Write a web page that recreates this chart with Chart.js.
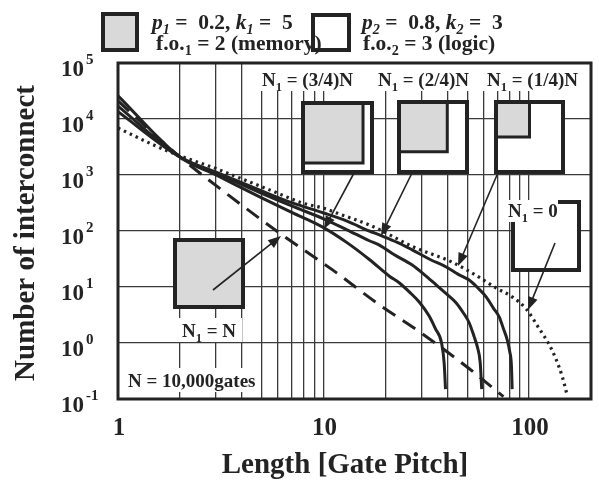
<!DOCTYPE html>
<html>
<head>
<meta charset="utf-8">
<script src="https://cdn.jsdelivr.net/npm/chart.js@4.4.1/dist/chart.umd.min.js"></script>
<style>
  html, body { margin: 0; padding: 0; background: #fff; }
  canvas { display: block; }
</style>
</head>
<body>
<canvas id="c" width="599" height="481"></canvas>
<script>
'use strict';
// ============================================================
// Wire length distribution, N = 10,000 gates
// x = length [gate pitch], y = number of interconnects
// ============================================================

// N1 = N (memory only), dashed
var memX = [1, 2, 3.5, 6.1, 11.1, 18.7, 29.2, 51, 75];
var memY = [21000, 2100, 420, 92, 20, 4.8, 1.6, 0.35, 0.11];

// N1 = (3/4)N
var q3X = [1, 2, 3, 5, 7, 10, 13, 16.7, 20.9, 23.4, 26.2, 29.2, 32.7, 35, 37.5, 38.6, 39.2];
var q3Y = [26000, 2100, 1000, 390, 215, 115, 62, 31, 15.6, 11.8, 8.1, 5.4, 3.0, 1.8, 1.0, 0.44, 0.15];

// N1 = (2/4)N
var q2X = [1, 2, 3, 5, 7, 10, 13, 16.7, 18.7, 22, 27, 31, 35.3, 40, 44.2, 48, 51.1, 54, 56, 57.8, 58.8];
var q2Y = [17000, 2100, 1080, 470, 280, 165, 105, 67, 56, 38, 24.7, 16.5, 10.9, 7.3, 5.2, 3.4, 2.3, 1.3, 0.85, 0.45, 0.15];

// N1 = (1/4)N
var q1X = [1, 2, 3, 5, 7, 10, 13, 16.7, 18.7, 23, 27, 33, 39.5, 45, 51.1, 57, 61.9, 67, 71.6, 75, 78.3, 80.5, 82, 82.7];
var q1Y = [13500, 2100, 1120, 520, 320, 210, 150, 100, 85, 62, 46, 31, 22.8, 17, 13.3, 9.2, 6.6, 4.2, 2.9, 1.8, 1.13, 0.7, 0.4, 0.15];

// N1 = 0 (logic only), dotted
var logicX = [1, 1.5, 2, 3, 3.8, 5.5, 7.9, 10, 11.6, 16.7, 19.3, 27, 42, 57, 69, 83, 97, 112, 125, 135, 145, 152];
var logicY = [6900, 3400, 2200, 1300, 920, 537, 316, 255, 209, 128, 100, 53, 28, 15, 9.6, 6.6, 4.0, 1.8, 0.95, 0.52, 0.25, 0.13];

var xGridVals = [1, 2, 3, 4, 5, 6, 7, 8, 9, 10, 20, 30, 40, 50, 60, 70, 80, 90, 100, 200];
var xLabelVals = [1, 10, 100];
var yDecades = [-1, 0, 1, 2, 3, 4, 5];

var INK = '#232323';
var GRAY = '#d9d9d9';
var SERIF = '"Liberation Serif", "Times New Roman", serif';

function pts(xs, ys) {
  return xs.map(function(x, i) { return {x: x, y: ys[i]}; });
}

function font(size, italic) {
  return (italic ? 'italic ' : '') + 'bold ' + size + 'px ' + SERIF;
}

// draw text made of parts: n = normal, i = italic, s = subscript, is = italic subscript
function rich(ctx, x, y, parts, size) {
  parts.forEach(function(p) {
    var kind = p[1], sz = size, dy = 0, it = false;
    if (kind === 'i') it = true;
    if (kind === 's' || kind === 'is') { sz = size * 0.66; dy = size * 0.24; it = kind === 'is'; }
    ctx.font = font(sz, it);
    ctx.fillText(p[0], x, y + dy);
    x += ctx.measureText(p[0]).width;
  });
  return x;
}

function patch(ctx, x, y, w, h) {
  ctx.fillStyle = '#fff';
  ctx.fillRect(x, y, w, h);
}

// square inset: gray share (side fraction) top-left, thick outline
function inset(ctx, x, y, w, h, frac) {
  ctx.fillStyle = '#fff';
  ctx.fillRect(x, y, w, h);
  if (frac > 0) {
    var gw = w * frac, gh = h * frac;
    ctx.fillStyle = GRAY;
    ctx.fillRect(x, y, gw, gh);
    if (frac < 1) {
      ctx.strokeStyle = INK; ctx.lineWidth = 3;
      ctx.beginPath();
      ctx.moveTo(x + gw, y); ctx.lineTo(x + gw, y + gh); ctx.lineTo(x, y + gh);
      ctx.stroke();
    }
  }
  ctx.strokeStyle = INK; ctx.lineWidth = 4;
  ctx.strokeRect(x, y, w, h);
}

function arrow(ctx, x1, y1, x2, y2) {
  var a = Math.atan2(y2 - y1, x2 - x1), L = 13, W = 5;
  ctx.strokeStyle = INK; ctx.fillStyle = INK; ctx.lineWidth = 1.6;
  ctx.beginPath(); ctx.moveTo(x1, y1);
  ctx.lineTo(x2 - Math.cos(a) * L * 0.8, y2 - Math.sin(a) * L * 0.8); ctx.stroke();
  ctx.beginPath();
  ctx.moveTo(x2, y2);
  ctx.lineTo(x2 - Math.cos(a) * L + Math.sin(a) * W, y2 - Math.sin(a) * L - Math.cos(a) * W);
  ctx.lineTo(x2 - Math.cos(a) * L - Math.sin(a) * W, y2 - Math.sin(a) * L + Math.cos(a) * W);
  ctx.closePath(); ctx.fill();
}

var figure = {
  id: 'figure',
  beforeDatasetsDraw: function(chart) {
    var ctx = chart.ctx;
    ctx.save();
    ctx.textBaseline = 'alphabetic';
    // label patches over the grid
    patch(ctx, 256, 64, 95, 27);
    patch(ctx, 374, 64, 96, 27);
    patch(ctx, 483, 64, 96, 27);
    patch(ctx, 179, 318, 63, 24);
    patch(ctx, 124, 368, 136, 24);

    inset(ctx, 303, 103, 69, 69, 0.87);
    inset(ctx, 399, 102, 68, 70, 0.71);
    inset(ctx, 496, 102, 67, 70, 0.5);
    inset(ctx, 175, 240, 68, 67, 1);
    inset(ctx, 513, 202, 66, 68, 0);
    patch(ctx, 505, 200, 53, 22);

    ctx.fillStyle = INK;
    var s = 19;
    rich(ctx, 262, 86, [['N', 'n'], ['1', 's'], [' = (3/4)N', 'n']], s);
    rich(ctx, 378, 86, [['N', 'n'], ['1', 's'], [' = (2/4)N', 'n']], s);
    rich(ctx, 487, 86, [['N', 'n'], ['1', 's'], [' = (1/4)N', 'n']], s);
    rich(ctx, 508, 217, [['N', 'n'], ['1', 's'], [' = 0', 'n']], s);
    rich(ctx, 182, 337, [['N', 'n'], ['1', 's'], [' = N', 'n']], s);
    rich(ctx, 128, 387, [['N = 10,000gates', 'n']], s);
    ctx.restore();
  },
  afterDatasetsDraw: function(chart) {
    var ctx = chart.ctx, ca = chart.chartArea;
    ctx.save();
    arrow(ctx, 213, 290, 281, 236);
    arrow(ctx, 354, 173, 324, 229);
    arrow(ctx, 412, 173, 381, 236);
    arrow(ctx, 497, 175, 458, 266);
    arrow(ctx, 555, 243, 528, 310);
    ctx.strokeStyle = INK; ctx.lineWidth = 3;
    ctx.strokeRect(ca.left, ca.top, ca.right - ca.left, ca.bottom - ca.top);
    ctx.restore();
  },
  afterDraw: function(chart) {
    var ctx = chart.ctx, xs = chart.scales.x, ys = chart.scales.y;
    ctx.save();
    ctx.fillStyle = INK;
    ctx.textBaseline = 'alphabetic';

    // legend
    inset(ctx, 103, 14, 34, 36, 1);
    inset(ctx, 313, 15, 36, 35, 0);
    ctx.fillStyle = INK;
    var ls = 21.5;
    rich(ctx, 152, 29, [['p', 'i'], ['1', 'is'], [' =  0.2, ', 'n'], ['k', 'i'], ['1', 'is'], [' =  5', 'n']], ls);
    rich(ctx, 156, 50, [['f.o.', 'n'], ['1', 's'], [' = 2 (memory)', 'n']], ls);
    rich(ctx, 362, 29, [['p', 'i'], ['2', 'is'], [' =  0.8, ', 'n'], ['k', 'i'], ['2', 'is'], [' =  3', 'n']], ls);
    rich(ctx, 363, 50, [['f.o.', 'n'], ['2', 's'], [' = 3 (logic)', 'n']], ls);

    // y tick labels 10^n
    yDecades.forEach(function(d) {
      var py = ys.getPixelForValue(Math.pow(10, d));
      ctx.textAlign = 'left';
      ctx.font = font(23);
      ctx.fillText('10', 61, py + 13);
      var w = ctx.measureText('10').width;
      ctx.font = font(15);
      ctx.fillText(String(d), 61 + w + 2, py + 1);
    });

    // x tick labels
    ctx.textAlign = 'center';
    ctx.font = font(25);
    xLabelVals.forEach(function(v) {
      ctx.fillText(String(v), xs.getPixelForValue(v) + 1, 435);
    });

    // axis titles
    ctx.font = font(29);
    ctx.fillText('Length [Gate Pitch]', 345, 473);
    ctx.translate(34, 233);
    ctx.rotate(-Math.PI / 2);
    ctx.fillText('Number of interconnect', 0, 0);
    ctx.restore();
  }
};

function line(data, dash, width) {
  return {
    data: data, showLine: true, pointRadius: 0, borderColor: INK,
    borderWidth: width, borderDash: dash, cubicInterpolationMode: 'monotone', fill: false
  };
}

new Chart(document.getElementById('c'), {
  type: 'scatter',
  data: {
    datasets: [
      line(pts(logicX, logicY), [2.5, 4], 3.2),
      line(pts(q1X, q1Y), [], 3),
      line(pts(q2X, q2Y), [], 3),
      line(pts(q3X, q3Y), [], 3),
      line(pts(memX, memY), [15, 9], 3)
    ]
  },
  options: {
    responsive: false, animation: false, devicePixelRatio: 1,
    layout: {padding: {left: 118, top: 63, right: 8, bottom: 82}},
    plugins: {legend: {display: false}, tooltip: {enabled: false}},
    scales: {
      x: {
        type: 'logarithmic', min: 1, max: 200,
        afterBuildTicks: function(s) { s.ticks = xGridVals.map(function(v) { return {value: v}; }); },
        ticks: {display: false, autoSkip: false},
        grid: {color: '#3a3a3a', lineWidth: 1.3, drawTicks: false},
        border: {display: false}
      },
      y: {
        type: 'logarithmic', min: 0.1, max: 100000,
        afterBuildTicks: function(s) { s.ticks = yDecades.map(function(d) { return {value: Math.pow(10, d)}; }); },
        ticks: {display: false, autoSkip: false},
        grid: {color: '#3a3a3a', lineWidth: 1.3, drawTicks: false},
        border: {display: false}
      }
    }
  },
  plugins: [figure]
});
</script>
</body>
</html>
